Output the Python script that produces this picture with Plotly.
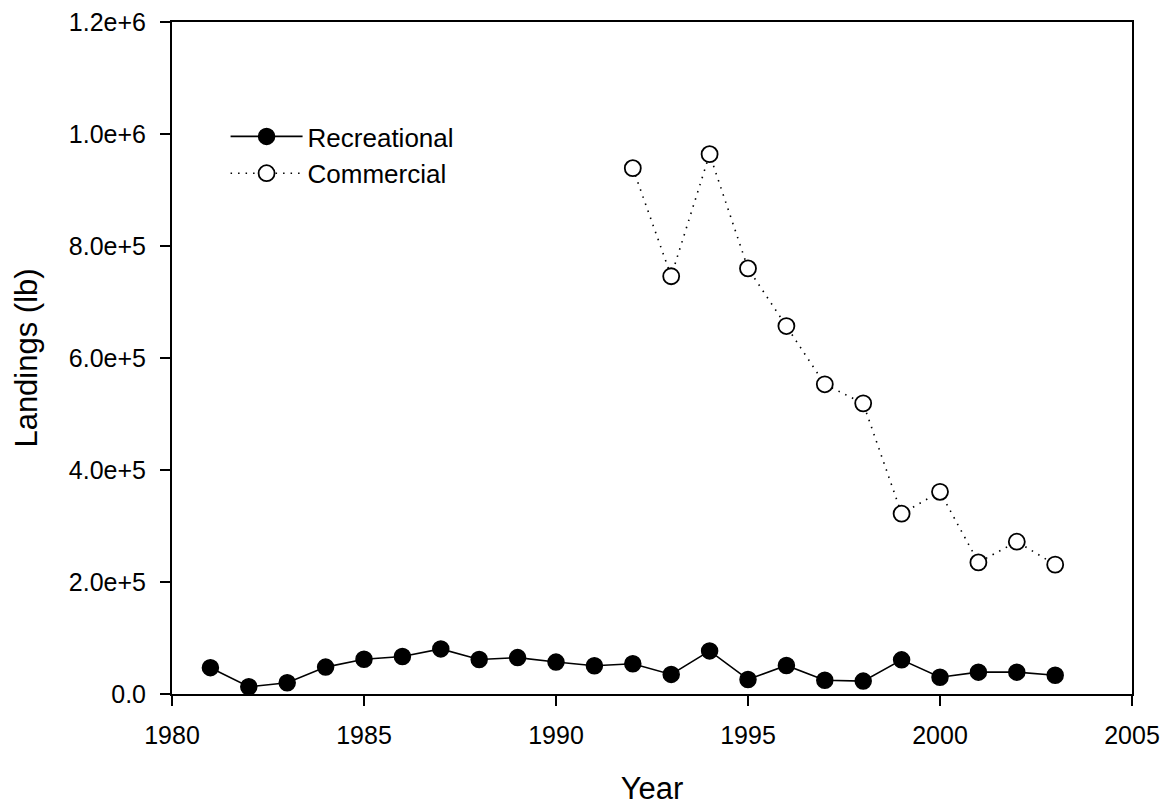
"""Recreational vs commercial landings, 1981-2003."""

import plotly.graph_objs as go

# Data
rec_years = list(range(1981, 2004))
rec_landings = [47000, 13000, 20000, 48000, 62000, 67000, 80500, 61500, 65000, 57000,
                50500, 54000, 35000, 77000, 26000, 51000, 24500, 23000, 61000, 30000,
                39000, 39000, 33500]

com_years = list(range(1992, 2004))
com_landings = [939000, 746000, 964000, 760000, 657000, 553000, 519000, 322000,
                361000, 235000, 272000, 231000]

y_ticks = [0, 2e5, 4e5, 6e5, 8e5, 1e6, 1.2e6]


def sci_label(v):
    """Format like 2.0e+5, with plain 0.0 for zero."""
    if v == 0:
        return "0.0"
    mant, exp = f"{v:.1e}".split("e")
    return f"{mant}e+{int(exp)}"


FONT = "Arial, 'Liberation Sans', sans-serif"

fig = go.Figure()

fig.add_trace(go.Scatter(
    x=rec_years, y=rec_landings,
    name="Recreational",
    mode="lines+markers",
    line=dict(color="black", width=1.6),
    marker=dict(symbol="circle", size=16, color="black",
                line=dict(color="black", width=1.5)),
))

fig.add_trace(go.Scatter(
    x=com_years, y=com_landings,
    name="Commercial",
    mode="lines+markers",
    line=dict(color="black", width=1.6, dash="1.5px,6px"),
    marker=dict(symbol="circle", size=16, color="white",
                line=dict(color="black", width=1.8)),
))

axis_common = dict(
    showline=True, linecolor="black", linewidth=2, mirror=True,
    ticks="outside", ticklen=10, tickwidth=2, tickcolor="black",
    showgrid=False, zeroline=False, automargin=False,
    ticklabeloverflow="allow",
    tickfont=dict(family=FONT, size=25, color="black"),
)

fig.update_xaxes(
    range=[1980, 2005], tick0=1980, dtick=5, ticklabelstandoff=8,
    title=dict(text="Year", font=dict(family=FONT, size=31, color="black"), standoff=29),
    **axis_common,
)
fig.update_yaxes(
    range=[0, 1.2e6], tickvals=y_ticks, ticktext=[sci_label(v) for v in y_ticks],
    ticklabelstandoff=9,
    title=dict(text="Landings (lb)", font=dict(family=FONT, size=31, color="black"), standoff=22),
    **axis_common,
)

# page body adds an 8px offset; margins are set so the plot box lands where the original does
fig.update_layout(
    width=1170, height=801,
    margin=dict(l=164, r=46, t=14, b=115),
    paper_bgcolor="white", plot_bgcolor="white",
    font=dict(family=FONT, color="black"),
    legend=dict(
        x=0.0558, y=0.8646, xanchor="left", yanchor="top",
        bgcolor="rgba(0,0,0,0)", borderwidth=0,
        font=dict(family=FONT, size=26, color="black"),
        itemwidth=72, tracegroupgap=0,
    ),
    showlegend=True,
)

fig.write_html("out.html")
